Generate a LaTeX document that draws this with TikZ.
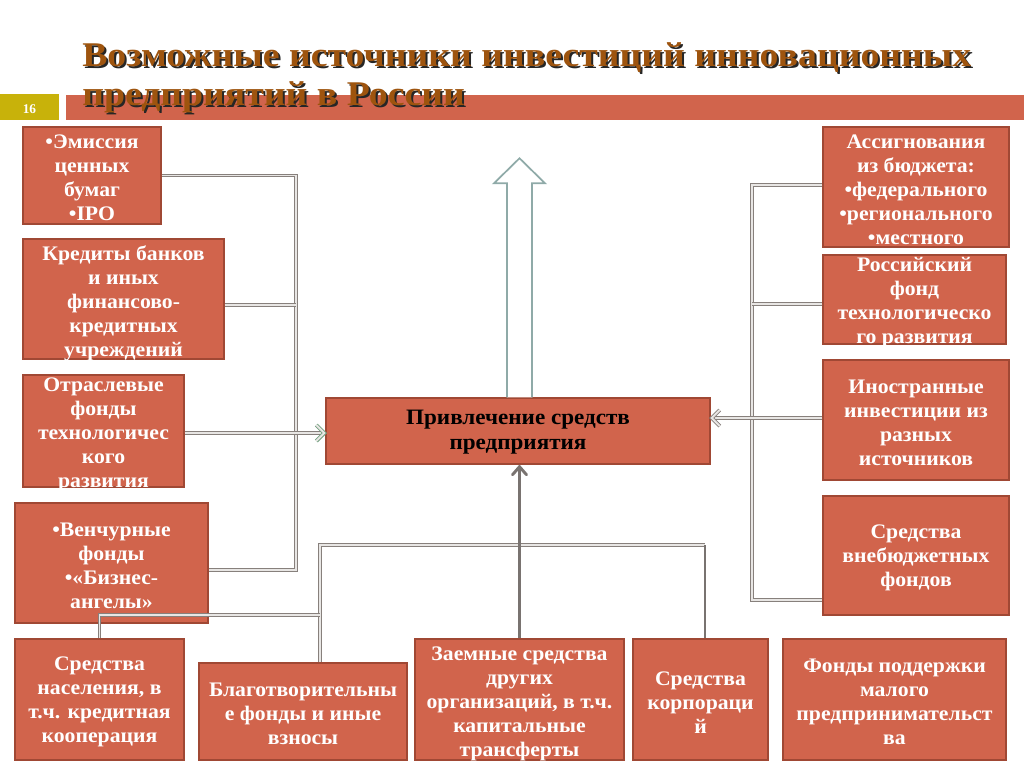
\documentclass[tikz,border=0pt]{standalone}
\usepackage{fontspec}
\setmainfont{Liberation Serif}
\newfontfamily\boxfont[FakeStretch=1.05]{Liberation Serif}
\newfontfamily\headfont[FakeStretch=1.09]{Liberation Serif}
\usetikzlibrary{arrows.meta,calc}
\definecolor{boxfill}{RGB}{209,100,76}
\definecolor{boxborder}{RGB}{160,72,52}
\definecolor{titlebrown}{RGB}{158,84,14}
\definecolor{gold}{RGB}{200,178,10}
\definecolor{conngray}{RGB}{135,128,124}
\definecolor{conninner}{RGB}{232,230,228}
\definecolor{arrowteal}{RGB}{143,170,168}
\definecolor{tipgreen}{RGB}{115,160,128}
\tikzset{
  x=0.75pt, y=-0.75pt,
  srcbox/.style={draw=boxborder, fill=boxfill, line width=1.1pt, inner sep=0pt},
  boxtext/.style={text=white, font=\boxfont\bfseries\fontsize{15.5}{18}\selectfont, align=center, inner sep=0pt},
  dline/.style={draw=conngray, double=conninner, double distance=1.4pt, line width=0.75pt, line join=miter},
  sline/.style={draw=conngray!90!black, line width=1.5pt},
  titletext/.style={font=\headfont\bfseries\fontsize{26}{30}\selectfont, anchor=base west, inner sep=0pt}
}
\begin{document}
\begin{tikzpicture}
\useasboundingbox (0,0) rectangle (1024,768);
\fill[white] (0,0) rectangle (1024,768);

% header bar and page number
\fill[gold] (0,94) rectangle (59,120);
\fill[boxfill] (66,95) rectangle (1024,120);
\node[text=white, font=\bfseries\fontsize{10}{11}\selectfont, inner sep=0pt] (pagenum) at (29.5,109) {16};

% title with shadow
\node[titletext, text=black!85] (t1s) at (84,68) {Возможные источники инвестиций инновационных};
\node[titletext, text=titlebrown] (t1) at (82,66) {Возможные источники инвестиций инновационных};
\node[titletext, text=black!85] (t2s) at (84,107) {предприятий в России};
\node[titletext, text=titlebrown] (t2) at (82,105) {предприятий в России};

% boxes
\node[srcbox, minimum width=103.5pt, minimum height=72.75pt] (em) at (92,175.5) {};
\node[boxtext] (emt) at ([yshift=-2pt]em.center) {•Эмиссия\\ценных\\бумаг\\•IPO};

\node[srcbox, minimum width=150.75pt, minimum height=90pt] (cr) at (123.5,299) {};
\node[boxtext] (crt) at ([yshift=-3pt]cr.center) {Кредиты банков\\и иных\\финансово-\\кредитных\\учреждений};

\node[srcbox, minimum width=120.75pt, minimum height=84pt] (ot) at (103.5,431) {};
\node[boxtext] (ott) at ([yshift=-3pt]ot.center) {Отраслевые\\фонды\\технологичес\\кого\\развития};

\node[srcbox, minimum width=144.75pt, minimum height=90pt] (ve) at (111.5,563) {};
\node[boxtext] (vet) at ([yshift=-2pt]ve.center) {•Венчурные\\фонды\\•«Бизнес-\\ангелы»};

\node[srcbox, minimum width=126.75pt, minimum height=90.75pt] (na) at (99.5,699.5) {};
\node[boxtext] (nat) at ([yshift=-2pt]na.center) {Средства\\населения, в\\т.ч. кредитная\\кооперация};

\node[srcbox, minimum width=156pt, minimum height=72.75pt] (bl) at (303,711.5) {};
\node[boxtext] (blt) at ([yshift=-2pt]bl.center) {Благотворительны\\е фонды и иные\\взносы};

\node[srcbox, minimum width=156.75pt, minimum height=90.75pt] (za) at (519.5,699.5) {};
\node[boxtext] (zat) at ([yshift=-3pt]za.center) {Заемные средства\\других\\организаций, в т.ч.\\капитальные\\трансферты};

\node[srcbox, minimum width=101.25pt, minimum height=90.75pt] (ko) at (700.5,699.5) {};
\node[boxtext] (kot) at ([yshift=-2pt]ko.center) {Средства\\корпораци\\й};

\node[srcbox, minimum width=167.25pt, minimum height=90.75pt] (fp) at (894.5,699.5) {};
\node[boxtext] (fpt) at ([yshift=-2pt]fp.center) {Фонды поддержки\\малого\\предпринимательст\\ва};

\node[srcbox, minimum width=139.5pt, minimum height=90pt] (as) at (916,187) {};
\node[boxtext] (ast) at ([yshift=-2pt]as.center) {Ассигнования\\из бюджета:\\•федерального\\•регионального\\•местного};

\node[srcbox, minimum width=137.25pt, minimum height=66.75pt] (rf) at (914.5,299.5) {};
\node[boxtext] (rft) at ([yshift=-2pt]rf.center) {Российский\\фонд\\технологическо\\го развития};

\node[srcbox, minimum width=139.5pt, minimum height=90pt] (in) at (916,420) {};
\node[boxtext] (int) at ([yshift=-2pt]in.center) {Иностранные\\инвестиции из\\разных\\источников};

\node[srcbox, minimum width=139.5pt, minimum height=89.25pt] (vb) at (916,555.5) {};
\node[boxtext] (vbt) at ([yshift=-2pt]vb.center) {Средства\\внебюджетных\\фондов};

\node[srcbox, minimum width=288pt, minimum height=49.5pt] (pr) at (518,431) {};
\node[boxtext, text=black, font=\boxfont\bfseries\fontsize{16.5}{19}\selectfont] (prt) at ([yshift=-1pt]pr.center) {Привлечение средств\\предприятия};

% hollow upward arrow
\draw[draw=arrowteal, fill=white, line width=1.3pt, line join=miter]
  ($(pr.north)+(-11,0)$) -- ($(pr.north)+(-11,-214)$) -- ($(pr.north)+(-24,-214)$)
  -- ($(pr.north)+(1.5,-239)$) -- ($(pr.north)+(27,-214)$) -- ($(pr.north)+(14,-214)$)
  -- ($(pr.north)+(14,0)$);

% left bus
\coordinate (lbus) at (296,0);
\draw[dline] (em.east) -- (em.east -| lbus) -- ([yshift=-5.25pt]ve.east -| lbus) -- ([yshift=-5.25pt]ve.east);
\draw[dline] ([yshift=-4.5pt]cr.east) -- ([yshift=-4.5pt]cr.east -| lbus);
\coordinate (otend) at ([yshift=-1.5pt]ot.east -| pr.west);
\draw[dline] ([yshift=-1.5pt]ot.east) -- ([xshift=-2pt]otend);
\draw[dline, draw=tipgreen, line join=miter] ($(otend)+(-9,-8)$) -- ($(otend)+(-1,0)$) -- ($(otend)+(-9,8)$);

% right bus
\coordinate (rbus) at (752,0);
\draw[dline] ([yshift=1.5pt]as.west) -- ([yshift=1.5pt]as.west -| rbus) -- ([yshift=-33.4pt]vb.west -| rbus) -- ([yshift=-33.4pt]vb.west);
\draw[dline] ([yshift=-3.4pt]rf.west) -- ([yshift=-3.4pt]rf.west -| rbus);
\coordinate (inend) at ([yshift=1.5pt]in.west -| pr.east);
\draw[dline] ([yshift=1.5pt]in.west) -- ([xshift=2pt]inend);
\draw[dline, line join=miter] ($(inend)+(9,-8)$) -- ($(inend)+(1,0)$) -- ($(inend)+(9,8)$);

% bottom bus
\coordinate (bbl) at (320,545);
\coordinate (bbr) at (705,545);
\coordinate (nj) at (320,615);
\draw[dline] (bl.north -| bbl) -- (bbl) -- (bbr);
\draw[sline] (bbr) -- (ko.north -| bbr);
\draw[dline] (na.north) -- (na.north |- nj) -- (nj);
\coordinate (zaend) at (za.north |- pr.south);
\draw[sline, line width=1.8pt] (za.north) -- ([yshift=-1pt]zaend);
\draw[sline, line width=2.2pt, line join=miter, line cap=round] ($(zaend)+(-7,10)$) -- ($(zaend)+(0,2)$) -- ($(zaend)+(7,10)$);
\end{tikzpicture}
\end{document}
